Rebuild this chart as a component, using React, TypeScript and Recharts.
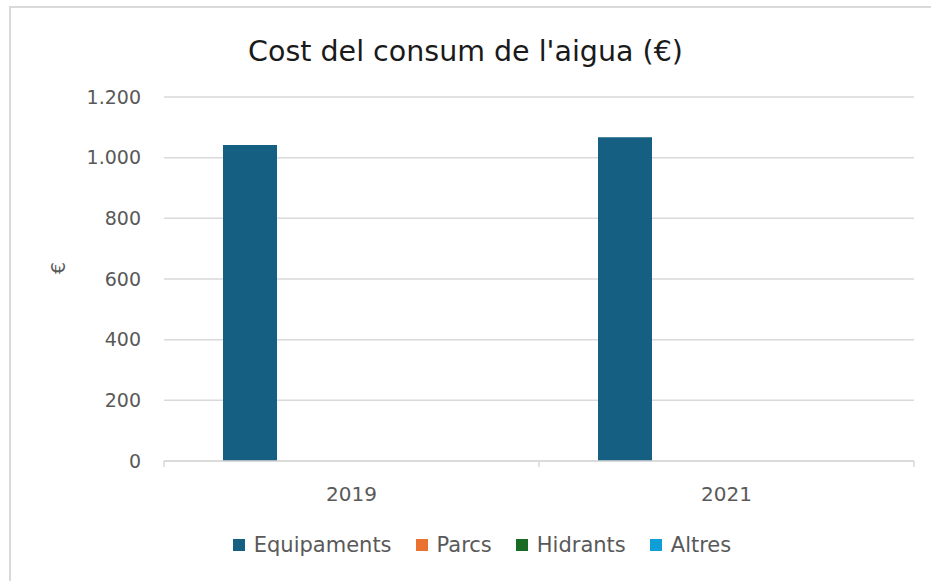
import { BarChart, Bar, XAxis, YAxis, CartesianGrid } from "recharts";

const years = ["2019", "2021"];
const equipaments = [1042, 1067];
const parcs = [0, 0];
const hidrants = [0, 0];
const altres = [0, 0];
const yTicks = [0, 200, 400, 600, 800, 1000, 1200];

const series = [
  { key: "equipaments", name: "Equipaments", color: "#156082", values: equipaments },
  { key: "parcs", name: "Parcs", color: "#E97132", values: parcs },
  { key: "hidrants", name: "Hidrants", color: "#196B24", values: hidrants },
  { key: "altres", name: "Altres", color: "#0F9ED5", values: altres },
];

const data = years.map((year, i) => {
  const row: Record<string, string | number> = { year };
  series.forEach((s) => (row[s.key] = s.values[i]));
  return row;
});

const FONT = "'DejaVu Sans', sans-serif";
const GRID = "#d9d9d9";
const TEXT = "#595959";

const fmt = (v: number) => String(v).replace(/\B(?=(\d{3})+(?!\d))/g, ".");

// category label plus Excel-style tick marks on the band edges
const YearTick = (props: any) => {
  const { x, y, payload, index, visibleTicksCount } = props;
  const off = payload?.offset ?? 0;
  const last = index === (visibleTicksCount ?? years.length) - 1;
  return (
    <g>
      <line x1={x - off} x2={x - off} y1={y} y2={y + 6} stroke={GRID} strokeWidth={1.5} />
      {last && <line x1={x + off} x2={x + off} y1={y} y2={y + 6} stroke={GRID} strokeWidth={1.5} />}
      <text x={x} y={y + 26} dy="0.71em" textAnchor="middle" fill={TEXT} fontSize={20} fontFamily={FONT}>
        {payload.value}
      </text>
    </g>
  );
};

export default function App() {
  return (
    <div style={{ position: "absolute", left: 0, top: 0, width: 931, height: 581, overflow: "hidden", background: "#fff", fontFamily: FONT }}>
      <div
        style={{
          position: "absolute",
          left: 9,
          top: 6,
          width: 960,
          height: 620,
          border: `2px solid ${GRID}`,
          boxSizing: "border-box",
        }}
      />
      <div
        style={{
          position: "absolute",
          left: 0,
          top: 38,
          width: 931,
          textAlign: "center",
          fontSize: 28.5,
          lineHeight: "28px",
          color: "#1a1a1a",
        }}
      >
        Cost del consum de l'aigua (€)
      </div>
      <div style={{ position: "absolute", left: 0, top: 0 }}>
        <BarChart
          width={931}
          height={581}
          data={data}
          margin={{ top: 97, right: 17, bottom: 80, left: 0 }}
          barCategoryGap={59}
          barGap={14}
        >
          <CartesianGrid vertical={false} stroke={GRID} strokeWidth={1.5} />
          <XAxis
            dataKey="year"
            height={40}
            axisLine={{ stroke: GRID, strokeWidth: 1.5 }}
            tickLine={false}
            tickSize={0}
            tickMargin={0}
            tick={<YearTick />}
          />
          <YAxis
            width={164}
            domain={[0, 1200]}
            ticks={yTicks}
            axisLine={false}
            tickLine={false}
            tickMargin={17}
            tickFormatter={fmt}
            tick={{ fill: TEXT, fontSize: 19, fontFamily: FONT }}
            label={(props: any) => {
              const vb = props.viewBox || {};
              const cy = (vb.y ?? 97) + (vb.height ?? 364) / 2 - 11;
              return (
                <text
                  x={58}
                  y={cy}
                  transform={`rotate(-90 58 ${cy})`}
                  textAnchor="middle"
                  dominantBaseline="central"
                  fill={TEXT}
                  fontSize={19}
                  fontFamily={FONT}
                >
                  €
                </text>
              );
            }}
          />
          {series.map((s) => (
            <Bar key={s.key} dataKey={s.key} name={s.name} fill={s.color} isAnimationActive={false} />
          ))}
        </BarChart>
      </div>
      <div
        style={{
          position: "absolute",
          left: 0,
          top: 532,
          width: 988,
          display: "flex",
          justifyContent: "center",
          alignItems: "center",
          fontSize: 21,
          color: TEXT,
          lineHeight: "26px",
        }}
      >
        {series.map((s) => (
          <div key={s.key} style={{ display: "flex", alignItems: "center", marginRight: 24 }}>
            <span style={{ display: "inline-block", width: 12, height: 12, background: s.color, marginRight: 9 }} />
            <span>{s.name}</span>
          </div>
        ))}
      </div>
    </div>
  );
}
